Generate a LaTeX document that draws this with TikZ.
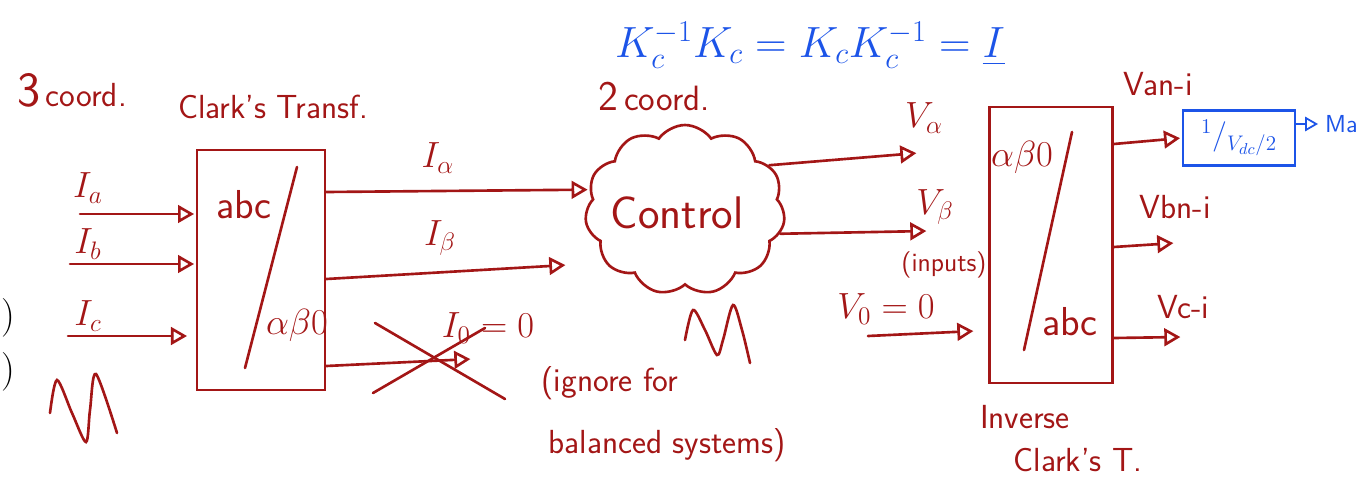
\documentclass[tikz,border=0pt]{standalone}
\usepackage{xcolor}
\usepackage{tikz}
\usetikzlibrary{arrows, positioning, shapes.symbols}
\usepackage{amsmath}
\definecolor{ink}{RGB}{163,22,22}
\definecolor{inkblue}{RGB}{28,84,232}

\begin{document}
\begin{tikzpicture}[x=0.02cm, y=-0.02cm,
	>=open triangle 60,
	line width=1.5pt,
	line cap=round,
	ink,
	arr/.style={->, shorten >=1pt},
	lbl/.style={font=\fontsize{21}{25}\selectfont},
	note/.style={font=\sffamily\fontsize{19}{23}\selectfont},
	block/.style={draw, minimum width=2.56cm, minimum height=4.8cm}]

	\useasboundingbox (0,0) rectangle (1371,483);

	% left side: three coordinates
	\node[note] (three) at (72,90) {{\fontsize{28}{32}\selectfont 3}\,coord.};
	\node[note] (clarkelbl) at (273,107) {Clark's Transf.};
	\node[block] (clarke) at (261,270) {};
	\node[note, font=\sffamily\fontsize{23}{27}\selectfont] (abcl) at (244,205) {abc};
	\node[lbl] (abol) at (297,325) {$\alpha\beta0$};
	\draw (297,167) -- (245,368);

	\node[lbl] (ia) at (88,188) {$I_a$};
	\node[lbl] (ib) at (88,244) {$I_b$};
	\node[lbl] (ic) at (88,316) {$I_c$};
	\coordinate (ia0) at (80,214);
	\coordinate (ib0) at (70,264);
	\coordinate (ic0) at (68,336);
	\draw[arr] (ia0) -- (ia0 -| clarke.west);
	\draw[arr] (ib0) -- (ib0 -| clarke.west);
	\draw[arr] (ic0) -- ([xshift=-4pt]ic0 -| clarke.west);

	\node[text=black, anchor=west, inner sep=0pt, font=\fontsize{22}{26}\selectfont] (pa) at (0,318) {)};
	\node[text=black, anchor=west, inner sep=0pt, font=\fontsize{22}{26}\selectfont] (pb) at (0,372) {)};
	\draw plot[smooth] coordinates {(50,413) (57,380) (72,413) (86,442) (90,410) (96,374) (117,433)};

	% control block, two coordinates
	\node[note, font=\sffamily\fontsize{20}{24}\selectfont] (two) at (654,96) {{\fontsize{24}{28}\selectfont 2}\,coord.};
	\node[cloud, draw, cloud puffs=11, cloud puff arc=110, aspect=1.2,
		minimum width=4cm, minimum height=3.4cm] (ctrl) at (685,210) {};
	\node[note, font=\sffamily\fontsize{26}{30}\selectfont] (ctrltxt) at (677,213) {Control};
	\draw plot[smooth] coordinates {(685,340) (693,310) (705,330) (717,355) (723,340) (733,305) (742,330) (750,363)};

	\node[lbl] (ialpha) at (438,158) {$I_\alpha$};
	\node[lbl] (ibeta) at (440,238) {$I_\beta$};
	\node[lbl] (izero) at (488,328) {$I_0=0$};
	\draw[arr] (clarke.east |- 0,192) -- (ctrl.168);
	\draw[arr] (clarke.east |- 0,279) -- (567,265);
	\draw[arr] (clarke.east |- 0,366) -- (472,359);
	\draw (375,323) -- (505,399);
	\draw (373,393) -- (485,328);
	\node[note] (ign1) at (610,383) {(ignore for};
	\node[note] (ign2) at (667,445) {balanced systems)};

	\node[text=inkblue, font=\fontsize{26}{30}\selectfont] (ident) at (810,45)
		{$K_c^{-1}K_c = K_cK_c^{-1} = \underline{I}$};

	% inverse block
	\node[block, minimum width=2.46cm, minimum height=5.52cm] (inv) at (1051,245) {};
	\node[lbl] (aboi) at (1022,157) {$\alpha\beta0$};
	\node[note, font=\sffamily\fontsize{23}{27}\selectfont] (abci) at (1070,322) {abc};
	\draw (1072,132) -- (1024,350);
	\node[note] (invlbl1) at (1025,417) {Inverse};
	\node[note] (invlbl2) at (1078,460) {Clark's T.};

	\node[lbl] (valpha) at (924,118) {$V_\alpha$};
	\node[lbl] (vbeta) at (935,207) {$V_\beta$};
	\node[note, font=\sffamily\fontsize{15}{18}\selectfont] (inputs) at (944,265) {(inputs)};
	\node[lbl] (vzero) at (886,309) {$V_0=0$};
	\coordinate (vz0) at (868,336);
	\draw[arr] (ctrl.28) -- (918,153);
	\draw[arr] (ctrl.-14) -- (928,231);
	\draw[arr] (vz0) -- (975,331);

	\node[note] (vanlbl) at (1158,84) {Van-i};
	\node[note] (vbnlbl) at (1175,207) {Vbn-i};
	\node[note] (vcnlbl) at (1183,307) {Vc-i};
	\node[draw=inkblue, text=inkblue, minimum width=2.24cm, minimum height=1.1cm,
		font=\fontsize{18}{22}\selectfont] (vdc) at (1239,138) {$^{1}/_{V_{dc}/2}$};
	\node[text=inkblue, anchor=west, font=\sffamily\fontsize{14}{17}\selectfont] (ma) at (1318,124) {Ma};
	\draw[arr] (inv.east |- 0,144) -- (vdc.west);
	\draw[arr] (inv.east |- 0,247) -- (1175,243);
	\draw[arr] (inv.east |- 0,338) -- (1182,337);
	\draw[->, inkblue, line width=1pt] (vdc.east |- ma) -- (ma.west);
\end{tikzpicture}
\end{document}
